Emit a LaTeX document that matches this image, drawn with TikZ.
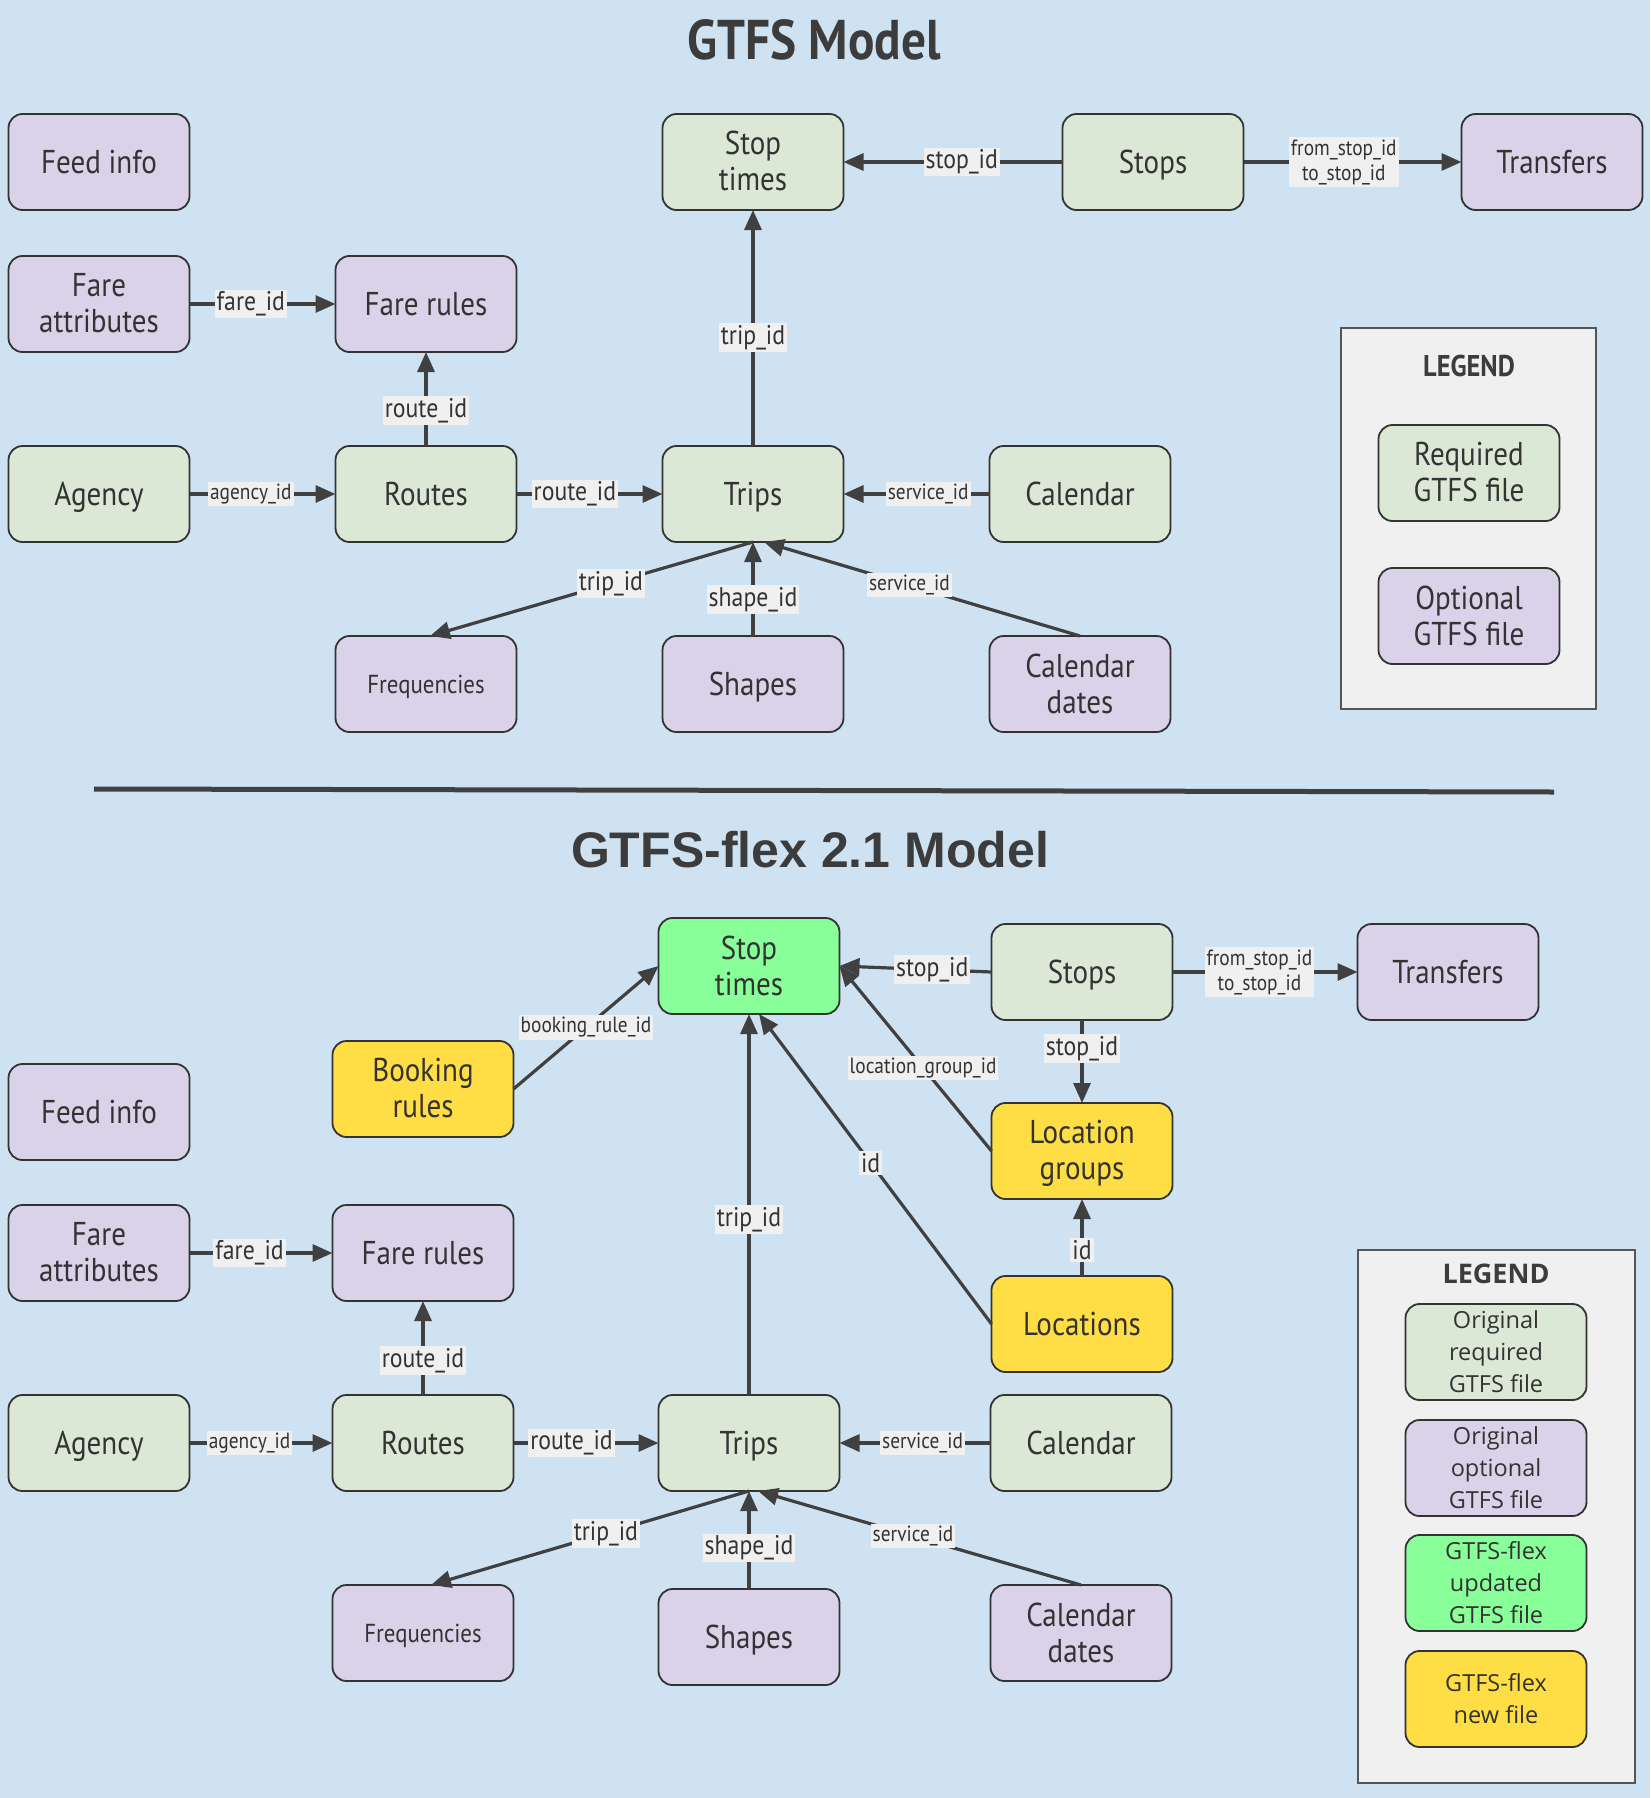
\documentclass[tikz,border=0pt]{standalone}
\usepackage{fontspec}
\setmainfont{PT Sans}[FakeStretch=0.88]
\newfontfamily\flexfont{Liberation Sans}
\newfontfamily\legfont{Open Sans}
\usetikzlibrary{arrows.meta,positioning}
\definecolor{BgBlue}{RGB}{207,226,242}
\definecolor{ReqGreen}{RGB}{218,232,213}
\definecolor{OptPurple}{RGB}{217,210,233}
\definecolor{FlexGreen}{RGB}{136,255,152}
\definecolor{NewYellow}{RGB}{255,221,68}
\definecolor{LblGray}{RGB}{240,240,240}
\definecolor{PanelGray}{RGB}{240,240,240}
\definecolor{PanelLine}{RGB}{85,85,85}
\definecolor{InkGray}{RGB}{64,64,64}
\definecolor{TextGray}{RGB}{51,51,51}
\definecolor{TitleGray}{RGB}{60,60,60}
\newcommand{\boxtxt}{\fontsize{33}{36}\selectfont}
\newcommand{\freqtxt}{\fontsize{26}{28}\selectfont}
\newcommand{\lblmid}{\fontsize{27}{29}\selectfont}
\newcommand{\lblsmall}{\fontsize{22}{25}\selectfont}
\newcommand{\legtxt}{\legfont\fontsize{23.5}{32}\selectfont}
\newcommand{\topstrut}[1]{\vrule height #1 depth 0pt width 0pt\relax}

\begin{document}
\begin{tikzpicture}[
    x=1pt, y=-1pt,
    >={Triangle[length=20pt,width=17pt]},
    node distance=94pt and 146pt,
    basebox/.style={rectangle, rounded corners=14pt, draw=TextGray, fill=#1,
                minimum width=181pt, minimum height=96pt, inner sep=2pt, outer sep=0pt,
                align=center, text=TextGray, line width=1.8pt},
    box/.style={basebox=#1, font=\boxtxt,
                execute at begin node=\topstrut{31pt}, text depth=8pt},
    box/.default=ReqGreen,
    twoline/.style={text depth=1.5pt},
    legbox/.style={basebox=#1, font=\legtxt, text depth=1.1pt},
    legbox/.default=ReqGreen,
    freqbox/.style={basebox=OptPurple, font=\freqtxt,
                execute at begin node=\topstrut{24.4pt}, text depth=6.2pt},
    arr/.style={->, line width=3.2pt, draw=InkGray},
    lbl/.style={fill=LblGray, inner sep=2pt, text=TextGray, font=\lblmid},
    slbl/.style={lbl, font=\lblsmall, align=center},
    panel/.style={rectangle, draw=PanelLine, fill=PanelGray, line width=1.6pt},
]

% ── Canvas ──
\fill[BgBlue] (0,0) rectangle (1650,1798);
\useasboundingbox (0,0) rectangle (1650,1798);

% ════════ GTFS model ════════
\node[font=\bfseries\fontsize{56}{60}\selectfont, text=TitleGray] (title1) at (814,40) {GTFS Model};

% ── Main row ──
\node[box] (agency) at (99,494) {Agency};
\node[box, right=of agency] (routes) {Routes};
\node[box, right=of routes] (trips) {Trips};
\node[box, right=of trips] (calendar) {Calendar};

% ── Fares and feed ──
\node[box=OptPurple, above=of routes] (farerules) {Fare rules};
\node[box=OptPurple, twoline, left=of farerules] (fareattr) {Fare\\attributes};
\node[box=OptPurple, above=46pt of fareattr] (feedinfo) {Feed info};

% ── Optional files below trips ──
\node[freqbox, below=of routes] (freq) {Frequencies};
\node[box=OptPurple, below=of trips] (shapes) {Shapes};
\node[box=OptPurple, twoline, below=of calendar] (caldates) {Calendar\\dates};

% ── Stop times, stops, transfers ──
\node[box, twoline] (stoptimes) at (753,162) {Stop\\times};
\node[box, right=219pt of stoptimes] (stops) {Stops};
\node[box=OptPurple, right=218pt of stops] (transfers) {Transfers};

% ── Legend ──
\node[panel, minimum width=255pt, minimum height=381pt] (legend1) at (1468.5,518.5) {};
\node[font=\bfseries\fontsize{30}{32}\selectfont, text=TitleGray] (legtitle1) at (1469,366) {LEGEND};
\node[box, twoline] (legreq) at (1469,473) {Required\\GTFS file};
\node[box=OptPurple, twoline] (legopt) at (1469,616) {Optional\\GTFS file};

% ── Arrows ──
\draw[arr] (stops) -- node[lbl, pos=0.46] {stop\_id} (stoptimes);
\draw[arr] (stops) -- node[slbl, pos=0.46] {from\_stop\_id\\to\_stop\_id} (transfers);
\draw[arr] (fareattr) -- node[lbl, pos=0.42] {fare\_id} (farerules);
\draw[arr] (routes) -- node[lbl, pos=0.38] {route\_id} (farerules);
\draw[arr] (agency) -- node[slbl, pos=0.42] {agency\_id} (routes);
\draw[arr] (routes) -- node[lbl, pos=0.4] {route\_id} (trips);
\draw[arr] (trips) -- node[lbl, pos=0.46] {trip\_id} (stoptimes);
\draw[arr] (calendar) -- node[slbl, pos=0.42] {service\_id} (trips);
\draw[arr] (trips.south) -- node[lbl, pos=0.44] {trip\_id} ([xshift=4pt]freq.north);
\draw[arr] (shapes) -- node[lbl, pos=0.39] {shape\_id} (trips);
\draw[arr] (caldates.north) -- node[slbl, pos=0.54] {service\_id} ([xshift=11pt]trips.south);

% ── Divider ──
\draw[line width=5pt, InkGray] (94,789) -- (1554,792);

% ════════ GTFS-flex model ════════
\node[font=\flexfont\bfseries\fontsize{50}{54}\selectfont, text=TitleGray] (title2) at (810,850) {GTFS-flex 2.1 Model};

% ── Main row ──
\node[box] (agency2) at (99,1443) {Agency};
\node[box, right=143pt of agency2] (routes2) {Routes};
\node[box, right=145pt of routes2] (trips2) {Trips};
\node[box, right=151pt of trips2] (calendar2) {Calendar};

% ── Fares, feed, booking ──
\node[box=OptPurple, above=of routes2] (farerules2) {Fare rules};
\node[box=OptPurple, twoline, left=143pt of farerules2] (fareattr2) {Fare\\attributes};
\node[box=OptPurple, above=45pt of fareattr2] (feedinfo2) {Feed info};
\node[box=NewYellow, twoline, above=68pt of farerules2] (bookrules) {Booking\\rules};

% ── Optional files below trips ──
\node[freqbox, below=of routes2] (freq2) {Frequencies};
\node[box=OptPurple, below=98pt of trips2] (shapes2) {Shapes};
\node[box=OptPurple, twoline, below=of calendar2] (caldates2) {Calendar\\dates};

% ── Stop times, stops, locations ──
\node[box=FlexGreen, twoline, above=381pt of trips2] (stoptimes2) {Stop\\times};
\node[box] (stops2) at (1082,972) {Stops};
\node[box=OptPurple, right=185pt of stops2] (transfers2) {Transfers};
\node[box=NewYellow, twoline, below=83pt of stops2] (locgroups) {Location\\groups};
\node[box=NewYellow, below=77pt of locgroups] (locations) {Locations};

% ── Legend ──
\node[panel, minimum width=277pt, minimum height=533pt] (legend2) at (1496.5,1516.5) {};
\node[font=\legfont\bfseries\fontsize{27}{30}\selectfont, text=TitleGray] (legtitle2) at (1496,1274) {LEGEND};
\node[legbox] (legorig) at (1496,1352) {Original\\required\\GTFS file};
\node[legbox=OptPurple] (legoptional) at (1496,1468) {Original\\optional\\GTFS file};
\node[legbox=FlexGreen] (legupd) at (1496,1583) {GTFS-flex\\updated\\GTFS file};
\node[legbox=NewYellow] (legnew) at (1496,1699) {GTFS-flex\\new file};

% ── Arrows ──
\draw[arr] (stops2.west) -- node[lbl, pos=0.39] {stop\_id} (stoptimes2.east);
\draw[arr] (stops2) -- node[slbl, pos=0.47] {from\_stop\_id\\to\_stop\_id} (transfers2);
\draw[arr] (bookrules.east) -- node[slbl, pos=0.5] {booking\_rule\_id} (stoptimes2.west);
\draw[arr] (trips2) -- node[lbl, pos=0.46] {trip\_id} (stoptimes2);
\draw[arr] (locations.west) -- node[lbl, pos=0.52] {id} ([xshift=10pt]stoptimes2.south);
\draw[arr] (locgroups.west) -- node[slbl, pos=0.45] {location\_group\_id} (stoptimes2.east);
\draw[arr] (stops2) -- node[lbl, pos=0.34] {stop\_id} (locgroups);
\draw[arr] (locations) -- node[lbl, pos=0.34] {id} (locgroups);
\draw[arr] (fareattr2) -- node[lbl, pos=0.42] {fare\_id} (farerules2);
\draw[arr] (routes2) -- node[lbl, pos=0.37] {route\_id} (farerules2);
\draw[arr] (agency2) -- node[slbl, pos=0.42] {agency\_id} (routes2);
\draw[arr] (routes2) -- node[lbl, pos=0.4] {route\_id} (trips2);
\draw[arr] (calendar2) -- node[slbl, pos=0.45] {service\_id} (trips2);
\draw[arr] (trips2.south) -- node[lbl, pos=0.45] {trip\_id} ([xshift=8pt]freq2.north);
\draw[arr] (shapes2) -- node[lbl, pos=0.42] {shape\_id} (trips2);
\draw[arr] (caldates2.north) -- node[slbl, pos=0.52] {service\_id} ([xshift=9pt]trips2.south);

\end{tikzpicture}
\end{document}
